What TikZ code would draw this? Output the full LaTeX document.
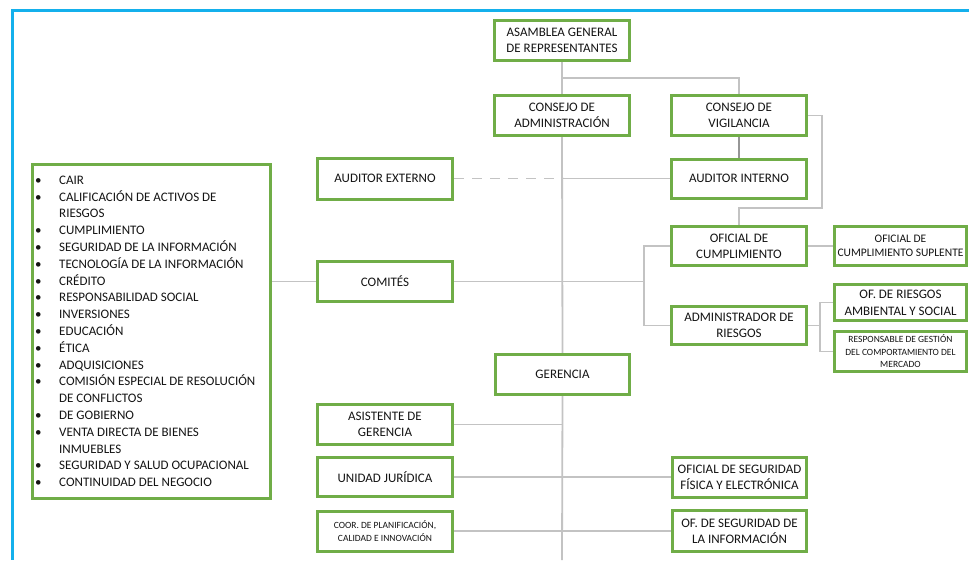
\documentclass[tikz,border=0pt]{standalone}
\usepackage{fontspec}
\setmainfont{Carlito}
\usetikzlibrary{backgrounds}
\definecolor{boxgreen}{RGB}{112,173,71}
\definecolor{lnk}{RGB}{195,195,195}
\definecolor{lnkd}{RGB}{150,150,150}
\definecolor{framec}{RGB}{20,176,236}
\definecolor{txt}{RGB}{20,20,20}
\begin{document}
\begin{tikzpicture}[x=1pt,y=-1pt,
  box/.style={draw=boxgreen, line width=3pt, fill=white, align=center, inner sep=0pt, text=txt, font=\fontsize{13}{16}\selectfont},
  small/.style={font=\fontsize{9.5}{12.5}\selectfont},
  link/.style={draw=lnk, line width=1.8pt}]
\path[use as bounding box] (0,0) rectangle (969,560);
\draw[framec, line width=3pt] (969,10) -- (12,10) -- (12,560);

% boxes
\node[box, minimum width=135pt, minimum height=40pt] (asam) at (562,40.5) {ASAMBLEA GENERAL\\DE REPRESENTANTES};
\node[box, minimum width=135pt, minimum height=40pt] (ca) at (562,115.5) {CONSEJO DE\\ADMINISTRACIÓN};
\node[box, minimum width=135pt, minimum height=40pt] (cv) at (739,115.5) {CONSEJO DE\\VIGILANCIA};
\node[box, minimum width=135pt, minimum height=39pt] (ai) at (739,178.5) {AUDITOR INTERNO};
\node[box, minimum width=135pt, minimum height=41pt] (ae) at (385,178.5) {AUDITOR EXTERNO};
\node[box, minimum width=135pt, minimum height=40pt] (com) at (385,281.5) {COMITÉS};
\node[box, minimum width=135pt, minimum height=39pt] (oc) at (739,246) {OFICIAL DE\\CUMPLIMIENTO};
\node[box, minimum width=132pt, minimum height=39pt, font=\fontsize{11.5}{14.5}\selectfont] (ocs) at (900.5,246) {OFICIAL DE\\CUMPLIMIENTO SUPLENTE};
\node[box, minimum width=135pt, minimum height=38pt] (ar) at (739,325.5) {ADMINISTRADOR DE\\RIESGOS};
\node[box, minimum width=132pt, minimum height=36pt, font=\fontsize{13}{17}\selectfont] (ors) at (900.5,302.5) {OF. DE RIESGOS\\AMBIENTAL Y SOCIAL};
\node[box, minimum width=132pt, minimum height=40pt, small] (rgc) at (900.5,351.5) {RESPONSABLE DE GESTIÓN\\DEL COMPORTAMIENTO DEL\\MERCADO};
\node[box, minimum width=238pt, minimum height=334pt] (list) at (151.5,331.5) {};
\node[anchor=north west, inner sep=0pt, align=left, text=txt, font=\fontsize{13}{16.8}\selectfont] (listtxt) at (35,175.6) {%
\makebox[24pt][l]{\textbullet}CAIR\\
\makebox[24pt][l]{\textbullet}CALIFICACIÓN DE ACTIVOS DE\\
\hspace*{24pt}RIESGOS\\
\makebox[24pt][l]{\textbullet}CUMPLIMIENTO\\
\makebox[24pt][l]{\textbullet}SEGURIDAD DE LA INFORMACIÓN\\
\makebox[24pt][l]{\textbullet}TECNOLOGÍA DE LA INFORMACIÓN\\
\makebox[24pt][l]{\textbullet}CRÉDITO\\
\makebox[24pt][l]{\textbullet}RESPONSABILIDAD SOCIAL\\
\makebox[24pt][l]{\textbullet}INVERSIONES\\
\makebox[24pt][l]{\textbullet}EDUCACIÓN\\
\makebox[24pt][l]{\textbullet}ÉTICA\\
\makebox[24pt][l]{\textbullet}ADQUISICIONES\\
\makebox[24pt][l]{\textbullet}COMISIÓN ESPECIAL DE RESOLUCIÓN\\
\hspace*{24pt}DE CONFLICTOS\\
\makebox[24pt][l]{\textbullet}DE GOBIERNO\\
\makebox[24pt][l]{\textbullet}VENTA DIRECTA DE BIENES\\
\hspace*{24pt}INMUEBLES\\
\makebox[24pt][l]{\textbullet}SEGURIDAD Y SALUD OCUPACIONAL\\
\makebox[24pt][l]{\textbullet}CONTINUIDAD DEL NEGOCIO};
\node[box, minimum width=134pt, minimum height=40pt] (ger) at (562.5,374.5) {GERENCIA};
\node[box, minimum width=135pt, minimum height=40pt] (ag) at (385,424.5) {ASISTENTE DE\\GERENCIA};
\node[box, minimum width=135pt, minimum height=39pt] (uj) at (385,477) {UNIDAD JURÍDICA};
\node[box, minimum width=135pt, minimum height=40pt, small] (coor) at (385,531) {COOR. DE PLANIFICACIÓN,\\CALIDAD E INNOVACIÓN};
\node[box, minimum width=134pt, minimum height=40pt] (osf) at (739.5,477) {OFICIAL DE SEGURIDAD\\FÍSICA Y ELECTRÓNICA};
\node[box, minimum width=134pt, minimum height=41pt] (osi) at (739.5,531) {OF. DE SEGURIDAD DE\\LA INFORMACIÓN};

% connectors
\coordinate (j1) at (562,78);
\coordinate (cvr) at (822,208);
\coordinate (v1) at (562,178.5);
\coordinate (bot) at (562,560);
\coordinate (b1) at (644,281.5);
\coordinate (b2) at (820,325.5);
\begin{pgfonlayer}{background}
\draw[link] (asam.south) -- (ca.north);
\draw[link] (j1) -| (cv.north);
\draw[link, draw=lnkd] (cv.south) -- (ai.north);
\draw[link] (cv.east) -| (cvr) -| (oc.north);
\draw[link, dash pattern=on 10pt off 8pt] (ae.east) -- (v1);
\draw[link] (v1) -- (ai.west);
\draw[link] (ca.south) -- (ger.north);
\draw[link] (ger.south) -- (bot);
\draw[link] (list.east |- com.west) -- (com.west);
\draw[link] (com.east) -- (b1);
\draw[link] (oc.west) -- (oc.west -| b1) -- (ar.west -| b1) -- (ar.west);
\draw[link] (oc.east) -- (ocs.west);
\draw[link] (ar.east) -- (b2);
\draw[link] (ors.west) -- (ors.west -| b2) -- (rgc.west -| b2) -- (rgc.west);
\draw[link] (ag.east) -- (ag.east -| bot);
\draw[link] (uj.east) -- (osf.west);
\draw[link] (coor.east) -- (osi.west);
\end{pgfonlayer}
\end{tikzpicture}
\end{document}
